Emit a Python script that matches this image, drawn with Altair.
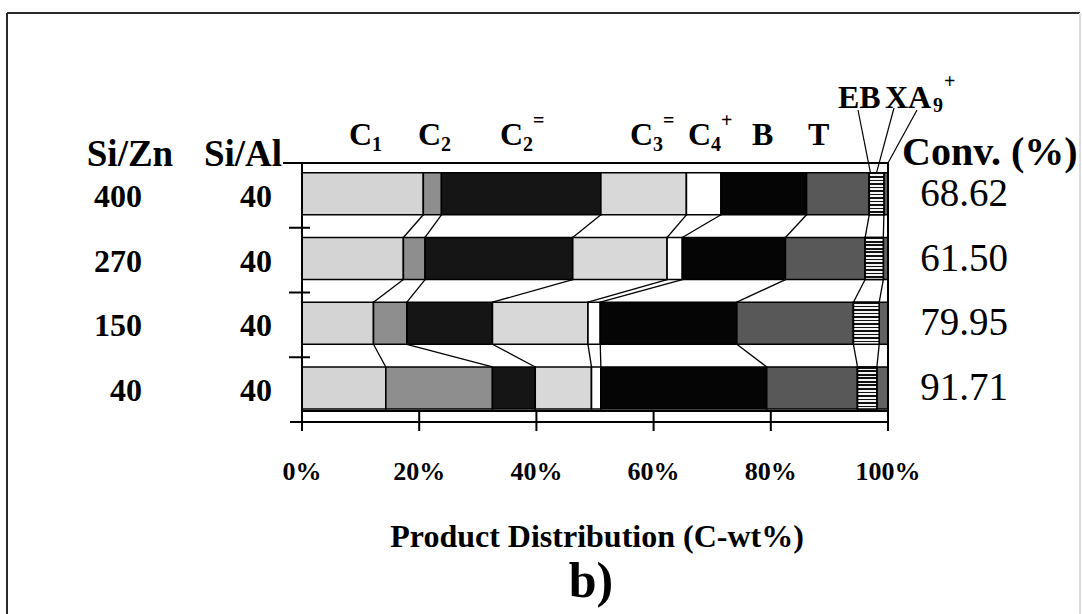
import altair as alt
import pandas as pd

# ---------------- data ----------------
si_zn = ["400", "270", "150", "40"]
si_al = ["40", "40", "40", "40"]
conversion = ["68.62", "61.50", "79.95", "91.71"]
products = ["C1", "C2", "C2=", "C3=", "C4+", "B", "T", "EB", "XA9+"]
# product distribution (C-wt%) per catalyst, in the order of `products`
dist_400 = [20.7, 3.1, 27.2, 14.6, 5.9, 14.6, 10.7, 2.5, 0.7]
dist_270 = [17.3, 3.7, 25.2, 16.1, 2.6, 17.6, 13.6, 3.1, 0.8]
dist_150 = [12.2, 5.7, 14.6, 16.3, 2.1, 23.3, 19.9, 4.4, 1.5]
dist_40 = [14.3, 18.2, 7.3, 9.6, 1.6, 28.3, 15.5, 3.3, 1.9]
distributions = [dist_400, dist_270, dist_150, dist_40]
tick_values = [0, 20, 40, 60, 80, 100]
tick_labels = ["0%", "20%", "40%", "60%", "80%", "100%"]

# ---------------- styling / layout ----------------
fills = ["#d4d4d4", "#8e8e8e", "#151515", "#d8d8d8", "#ffffff",
         "#050505", "#585858", "#7a7a7a", "#626262"]
SERIF = "Liberation Serif"
W, H = 1082, 614
LEFT, TOP, PW, PH = 302, 163, 586, 259
ROWS = len(si_zn)
BAR_LO, BAR_HI = 0.2, 0.85


def to_x(px):
    return (px - LEFT) / PW * 100


def to_y(py):
    return (TOP + PH - py) / PH * ROWS


xs = alt.Scale(domain=[0, 100], nice=False, zero=False)
ys = alt.Scale(domain=[0, ROWS], nice=False, zero=False)

# stacked segments
seg = []
for i, dist in enumerate(distributions):
    base = ROWS - 1 - i
    start = 0.0
    for p, v in zip(products, dist):
        seg.append(dict(row=i, product=p, start=start, end=start + v,
                        low=base + BAR_LO, high=base + BAR_HI))
        start += v
bars = pd.DataFrame(seg)

# series lines joining segment boundaries of neighbouring bars
links = []
for i in range(ROWS - 1):
    up = bars[bars.row == i].reset_index(drop=True)
    lo = bars[bars.row == i + 1].reset_index(drop=True)
    for k in range(len(products) - 1):
        links.append(dict(x=up.end[k], y=up.low[k], x2=lo.end[k], y2=lo.high[k]))
links = pd.DataFrame(links)

# leader lines from the EB / XA9+ labels to the top bar
top_bar = bars[bars.row == 0].set_index("product")
leaders = pd.DataFrame([
    dict(x=to_x(858), y=to_y(110), x2=top_bar.loc["EB", "start"] + 0.2, y2=top_bar.loc["EB", "high"]),
    dict(x=to_x(894), y=to_y(108), x2=(top_bar.loc["EB", "start"] + top_bar.loc["EB", "end"]) / 2,
         y2=top_bar.loc["EB", "high"]),
    dict(x=to_x(917), y=to_y(110), x2=100, y2=ROWS),
])

# plot frame and axis lines
frame = pd.DataFrame([
    dict(x=0, y=ROWS, x2=100, y2=ROWS),                      # top of plot box
    dict(x=100, y=ROWS, x2=100, y2=to_y(430)),               # right side
    dict(x=0, y=to_y(411), x2=100, y2=to_y(411)),            # inner bottom
    dict(x=0, y=ROWS, x2=0, y2=to_y(431)),                   # category axis
    dict(x=to_x(290), y=0, x2=100, y2=0),                    # value axis
] + [dict(x=to_x(289), y=r, x2=to_x(310), y2=r) for r in range(1, ROWS)]
  + [dict(x=to_x(283), y=ROWS, x2=0, y2=ROWS)]
  + [dict(x=t, y=to_y(411), x2=t, y2=to_y(431)) for t in tick_values])

outer = pd.DataFrame([
    dict(x=to_x(7), y=to_y(13), x2=to_x(1080), y2=to_y(13), c="#2a2a2a"),
    dict(x=to_x(7), y=to_y(13), x2=to_x(7), y2=to_y(H + 10), c="#2a2a2a"),
    dict(x=to_x(1080), y=to_y(13), x2=to_x(1080), y2=to_y(H + 10), c="#dcdcdc"),
])


def rules(df, width, color="black"):
    enc = dict(
        x=alt.X("x:Q", scale=xs, axis=None),
        y=alt.Y("y:Q", scale=ys, axis=None),
        x2="x2:Q", y2="y2:Q",
    )
    if "c" in df.columns:
        enc["color"] = alt.Color("c:N", scale=None)
        return alt.Chart(df).mark_rule(strokeWidth=width).encode(**enc)
    return alt.Chart(df).mark_rule(color=color, strokeWidth=width).encode(**enc)


def texts(df, size, weight="bold", align="left", dy=0):
    return alt.Chart(df).mark_text(
        font=SERIF, fontSize=size, fontWeight=weight, align=align,
        baseline="middle", color="black", dy=dy,
    ).encode(
        x=alt.X("x:Q", scale=xs, axis=None),
        y=alt.Y("y:Q", scale=ys, axis=None),
        text="text:N",
    )


def row_center(i):
    return ROWS - 1 - i + (BAR_LO + BAR_HI) / 2


# ---------------- bars ----------------
bar_layer = alt.Chart(bars).mark_rect(stroke="black", strokeWidth=1.6).encode(
    x=alt.X("start:Q", scale=xs, axis=None),
    x2="end:Q",
    y=alt.Y("low:Q", scale=ys, axis=None),
    y2="high:Q",
    color=alt.Color("product:N", scale=alt.Scale(domain=products, range=fills), legend=None),
)

# horizontal stripes for the EB segments
stops = []
n_stripes = 12
for k in range(n_stripes):
    a, m, b = k / n_stripes, (k + 0.45) / n_stripes, (k + 1) / n_stripes
    stops += [{"offset": a, "color": "#111111"}, {"offset": m, "color": "#111111"},
              {"offset": m, "color": "#f4f4f4"}, {"offset": b, "color": "#f4f4f4"}]
stripes = {"gradient": "linear", "x1": 0, "y1": 0, "x2": 0, "y2": 1, "stops": stops}
eb_layer = alt.Chart(bars[bars["product"] == "EB"]).mark_rect(
    fill=stripes, stroke="black", strokeWidth=1.6
).encode(
    x=alt.X("start:Q", scale=xs, axis=None), x2="end:Q",
    y=alt.Y("low:Q", scale=ys, axis=None), y2="high:Q",
)

# ---------------- text ----------------
row_zn = pd.DataFrame({"text": si_zn, "x": to_x(142), "y": [row_center(i) for i in range(ROWS)]})
row_al = pd.DataFrame({"text": si_al, "x": to_x(256), "y": [row_center(i) for i in range(ROWS)]})
row_cv = pd.DataFrame({"text": conversion, "x": to_x(964), "y": [row_center(i) for i in range(ROWS)]})
ticks_df = pd.DataFrame({"text": tick_labels, "x": tick_values, "y": to_y(472)})

col_heads = pd.DataFrame([
    dict(text="Si/Zn", x=to_x(130), y=to_y(155)),
    dict(text="Si/Al", x=to_x(243), y=to_y(155)),
])
conv_head = pd.DataFrame([dict(text="Conv. (%)", x=to_x(902), y=to_y(153))])

heads = [("C", 349, "1", None), ("C", 418, "2", None), ("C", 500, "2", "="),
         ("C", 630, "3", "="), ("C", 688, "4", "+"), ("B", 752, None, None),
         ("T", 808, None, None)]
h_main, h_sub, h_sup = [], [], []
for main, px, sub, sup in heads:
    h_main.append(dict(text=main, x=to_x(px), y=to_y(135)))
    if sub:
        h_sub.append(dict(text=sub, x=to_x(px + 23), y=to_y(145)))
    if sup:
        h_sup.append(dict(text=sup, x=to_x(px + 33), y=to_y(121)))
h_main += [dict(text="EB", x=to_x(838), y=to_y(98)), dict(text="XA", x=to_x(885), y=to_y(98))]
h_sub.append(dict(text="9", x=to_x(933), y=to_y(106)))
h_sup.append(dict(text="+", x=to_x(944), y=to_y(82)))

title_df = pd.DataFrame([dict(text="Product Distribution (C-wt%)", x=to_x(597), y=to_y(537))])
panel_df = pd.DataFrame([dict(text="b)", x=to_x(591), y=to_y(582))])

chart = alt.layer(
    rules(outer, 2),
    bar_layer,
    eb_layer,
    rules(links, 1.3),
    rules(frame, 2),
    rules(leaders, 1.2),
    texts(ticks_df, 26, align="center"),
    texts(row_zn, 32, align="right", dy=3),
    texts(row_al, 32, align="center", dy=3),
    texts(row_cv, 39, weight="normal", align="center", dy=0),
    texts(col_heads, 37, align="center"),
    texts(conv_head, 40),
    texts(pd.DataFrame(h_main), 32),
    texts(pd.DataFrame(h_sub), 20),
    texts(pd.DataFrame(h_sup), 20),
    texts(title_df, 32, align="center"),
    texts(panel_df, 50, align="center"),
).properties(
    width=PW, height=PH,
    autosize=alt.AutoSizeParams(type="none"),
    padding={"left": LEFT, "top": TOP, "right": W - LEFT - PW, "bottom": H - TOP - PH},
    background="white",
).configure_view(stroke=None)

chart.save("out.html", embed_options={"renderer": "svg", "actions": False})
